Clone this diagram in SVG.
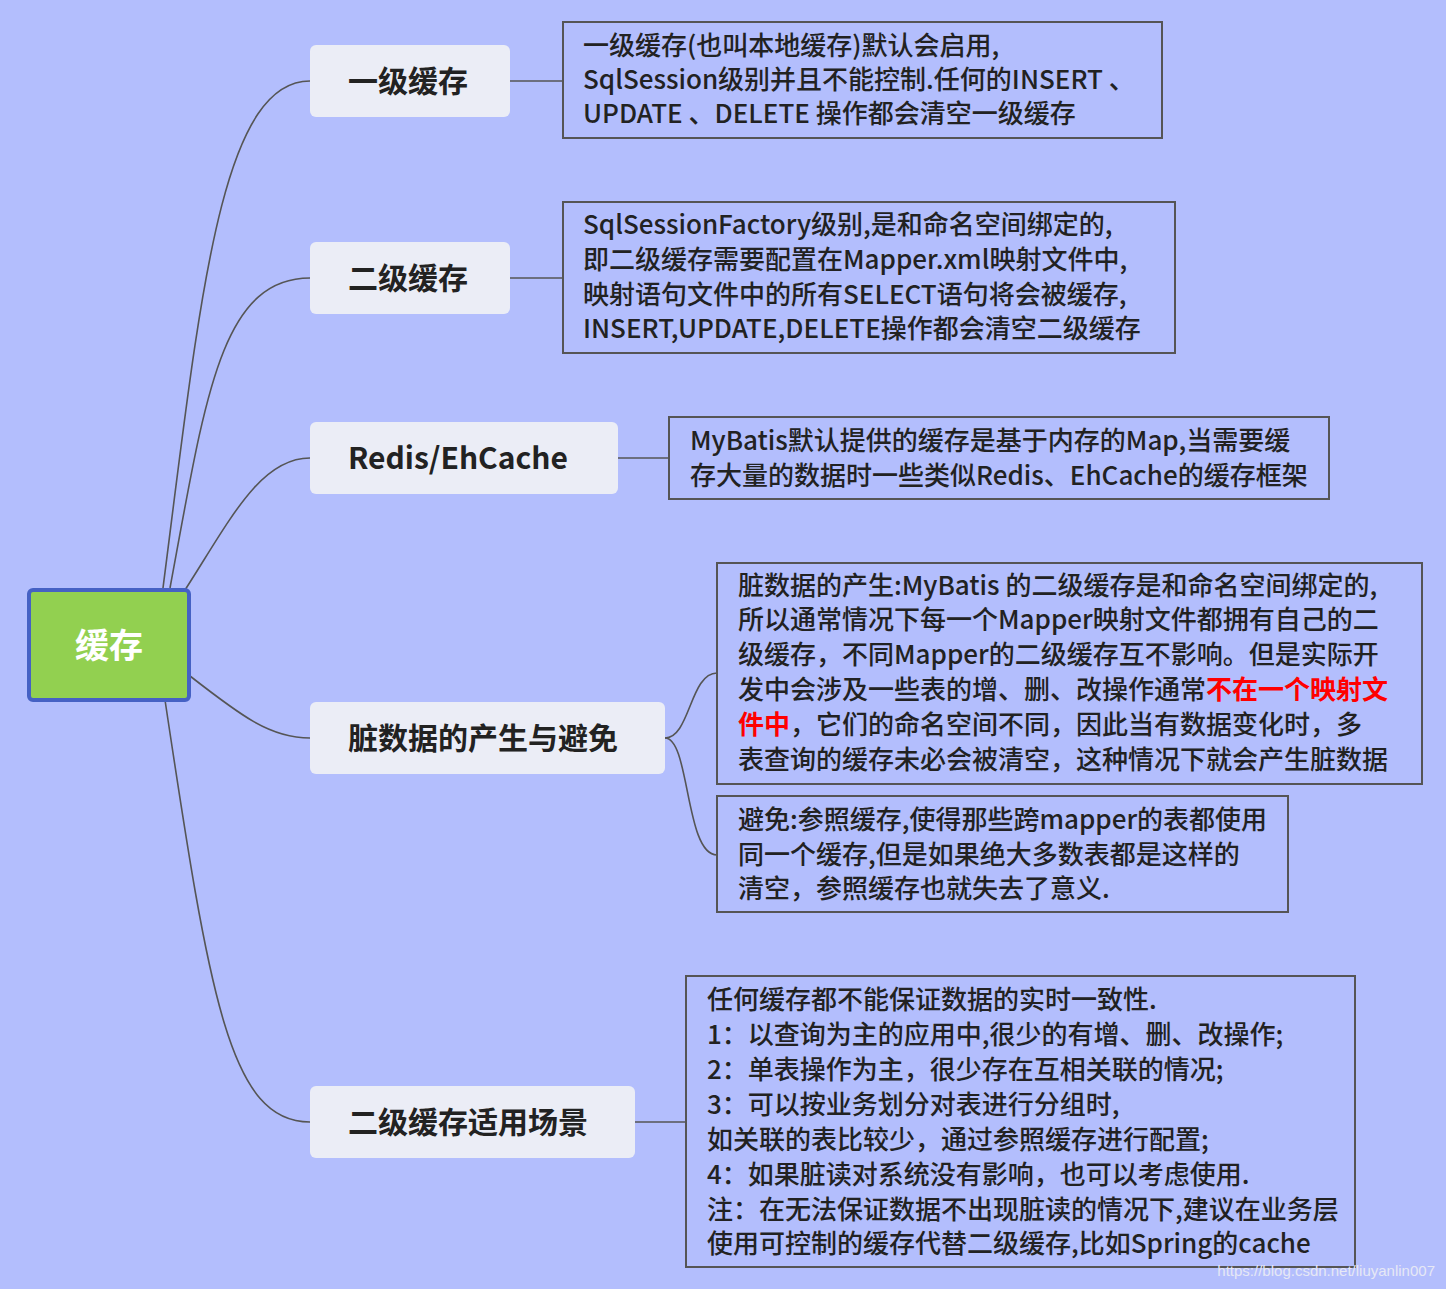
<svg xmlns="http://www.w3.org/2000/svg" width="1446" height="1289" viewBox="0 0 1446 1289">
<style>
.n rect{fill:#ebedf6;}
.n text{font-family:"Noto Sans CJK SC","Noto Sans",sans-serif;font-size:30px;font-weight:bold;fill:#222;}
.b rect{fill:none;stroke:#555;stroke-width:2;}
.b text{font-family:"Noto Sans CJK SC","Noto Sans",sans-serif;font-size:26px;font-weight:500;fill:#222;}
.c path{fill:none;stroke:#555;stroke-width:1.6;}
</style>
<rect width="1446" height="1289" fill="#b3befd"/>
<g class="c">
<path d="M163,588 C200,300 220,81 310,81"/>
<path d="M170,588 C205,400 220,278 310,278"/>
<path d="M185,590 C230,520 260,458 310,458"/>
<path d="M190,676 C240,715 270,738 310,738"/>
<path d="M165,700 C210,1000 230,1122 310,1122"/>
<path d="M510,81 H563"/>
<path d="M510,278 H563"/>
<path d="M618,458 H669"/>
<path d="M665,738 C690,738 690,673 717,673"/>
<path d="M665,738 C690,738 685,855 717,855"/>
<path d="M635,1122 H686"/>
</g>
<g id="center"><rect x="29" y="590" width="160" height="110" rx="4" fill="#92d050" stroke="#4561c4" stroke-width="4"/><text x="109" y="658" text-anchor="middle" font-family="Noto Sans CJK SC,sans-serif" font-size="34" font-weight="bold" fill="#fff">缓存</text></g>
<g id="n1" class="n"><rect x="310" y="45" width="200" height="72" rx="6"/><text x="348" y="92">一级缓存</text></g>
<g id="n2" class="n"><rect x="310" y="242" width="200" height="72" rx="6"/><text x="348" y="289">二级缓存</text></g>
<g id="n3" class="n"><rect x="310" y="422" width="308" height="72" rx="6"/><text x="348" y="469">Redis/EhCache</text></g>
<g id="n4" class="n"><rect x="310" y="702" width="355" height="72" rx="6"/><text x="348" y="749">脏数据的产生与避免</text></g>
<g id="n5" class="n"><rect x="310" y="1086" width="325" height="72" rx="6"/><text x="348" y="1133">二级缓存适用场景</text></g>
<g id="b1" class="b"><rect x="563" y="22" width="599" height="116"/>
<text x="583" y="55">一级缓存(也叫本地缓存)默认会启用,</text>
<text x="583" y="89">SqlSession级别并且不能控制.任何的INSERT 、</text>
<text x="583" y="123">UPDATE 、DELETE 操作都会清空一级缓存</text></g>
<g id="b2" class="b"><rect x="563" y="202" width="612" height="151"/>
<text x="583" y="234">SqlSessionFactory级别,是和命名空间绑定的,</text>
<text x="583" y="269">即二级缓存需要配置在Mapper.xml映射文件中,</text>
<text x="583" y="304">映射语句文件中的所有SELECT语句将会被缓存,</text>
<text x="583" y="338">INSERT,UPDATE,DELETE操作都会清空二级缓存</text></g>
<g id="b3" class="b"><rect x="669" y="417" width="660" height="82"/>
<text x="690" y="450">MyBatis默认提供的缓存是基于内存的Map,当需要缓</text>
<text x="690" y="485">存大量的数据时一些类似Redis、EhCache的缓存框架</text></g>
<g id="b4" class="b"><rect x="717" y="563" width="705" height="221"/>
<text x="738" y="595">脏数据的产生:MyBatis 的二级缓存是和命名空间绑定的,</text>
<text x="738" y="629">所以通常情况下每一个Mapper映射文件都拥有自己的二</text>
<text x="738" y="664">级缓存，不同Mapper的二级缓存互不影响。但是实际开</text>
<text x="738" y="699">发中会涉及一些表的增、删、改操作通常<tspan fill="#ff0000" font-weight="bold">不在一个映射文</tspan></text>
<text x="738" y="734"><tspan fill="#ff0000" font-weight="bold">件中</tspan>，它们的命名空间不同，因此当有数据变化时，多</text>
<text x="738" y="769">表查询的缓存未必会被清空，这种情况下就会产生脏数据</text></g>
<g id="b5" class="b"><rect x="717" y="796" width="571" height="116"/>
<text x="738" y="829">避免:参照缓存,使得那些跨mapper的表都使用</text>
<text x="738" y="864">同一个缓存,但是如果绝大多数表都是这样的</text>
<text x="738" y="898">清空，参照缓存也就失去了意义.</text></g>
<g id="b6" class="b"><rect x="686" y="976" width="669" height="291"/>
<text x="707" y="1009">任何缓存都不能保证数据的实时一致性.</text>
<text x="707" y="1044">1：以查询为主的应用中,很少的有增、删、改操作;</text>
<text x="707" y="1079">2：单表操作为主，很少存在互相关联的情况;</text>
<text x="707" y="1114">3：可以按业务划分对表进行分组时,</text>
<text x="707" y="1149">如关联的表比较少，通过参照缓存进行配置;</text>
<text x="707" y="1184">4：如果脏读对系统没有影响，也可以考虑使用.</text>
<text x="707" y="1219">注：在无法保证数据不出现脏读的情况下,建议在业务层</text>
<text x="707" y="1253">使用可控制的缓存代替二级缓存,比如Spring的cache</text></g>
<text x="1435" y="1276" text-anchor="end" font-family="Liberation Sans,sans-serif" font-size="15" fill="#e6e8f5">https://blog.csdn.net/liuyanlin007</text>
</svg>
